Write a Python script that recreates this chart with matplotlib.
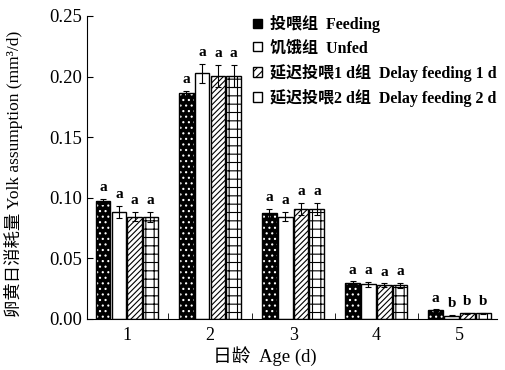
import matplotlib.pyplot as plt
import numpy as np
from matplotlib.patches import Patch

plt.rcParams['font.family'] = ['Liberation Serif', 'Noto Sans CJK SC']
plt.rcParams['hatch.linewidth'] = 0.8

days = ['1', '2', '3', '4', '5']
feeding = [0.097, 0.186, 0.087, 0.030, 0.0074]
feeding_err = [0.002, 0.002, 0.004, 0.001, 0.0005]
unfed = [0.0885, 0.2025, 0.0845, 0.0286, 0.0027]
unfed_err = [0.005, 0.008, 0.004, 0.002, 0.0005]
delay1 = [0.0845, 0.2005, 0.0905, 0.0278, 0.0047]
delay1_err = [0.004, 0.009, 0.005, 0.0015, 0.0005]
delay2 = [0.084, 0.2005, 0.0905, 0.0278, 0.0047]
delay2_err = [0.004, 0.009, 0.005, 0.002, 0.0005]
letters = [['a', 'a', 'a', 'a', 'a'],
           ['a', 'a', 'a', 'a', 'b'],
           ['a', 'a', 'a', 'a', 'b'],
           ['a', 'a', 'a', 'a', 'b']]
names = ['投喂组  Feeding', '饥饿组  Unfed',
         '延迟投喂1 d组  Delay feeding 1 d', '延迟投喂2 d组  Delay feeding 2 d']

fig = plt.figure(figsize=(5.05, 3.7), dpi=100)
ax = fig.add_axes([0.172, 0.138, 0.812, 0.819])

x = np.arange(1, 6)
w = 0.19
series = [(feeding, feeding_err), (unfed, unfed_err),
          (delay1, delay1_err), (delay2, delay2_err)]
offsets = [-1.5 * w, -0.5 * w, 0.5 * w, 1.5 * w]

for i, ((vals, errs), off) in enumerate(zip(series, offsets)):
    xs = x + off
    if i == 0:
        ax.bar(xs, vals, w * 0.93, color='black', edgecolor='white',
               hatch='...', linewidth=0)
        ax.bar(xs, vals, w * 0.93, fill=False, edgecolor='black', linewidth=1)
    elif i == 1:
        ax.bar(xs, vals, w * 0.93, color='white', edgecolor='black', linewidth=1)
    elif i == 2:
        ax.bar(xs, vals, w * 0.93, color='white', edgecolor='black',
               hatch='//////', linewidth=1)
    else:
        ax.bar(xs, vals, w * 0.93, color='white', edgecolor='black',
               hatch='++', linewidth=1)
    ax.errorbar(xs, vals, yerr=errs, fmt='none', ecolor='black',
                elinewidth=0.8, capsize=2.5, capthick=0.8)
    for xi, v, e, lab in zip(xs, vals, errs, letters[i]):
        ax.text(xi, v + e + 0.004, lab, ha='center', va='bottom',
                fontsize=11, fontweight='bold')

ax.set_xlim(0.52, 5.45)
ax.set_ylim(0, 0.25)
ax.set_xticks(x)
ax.set_xticklabels(days)
ax.set_xticks([1.5, 2.5, 3.5, 4.5], minor=True)
ax.set_yticks(np.arange(0, 0.251, 0.05))
ax.set_yticklabels(['%.2f' % v for v in np.arange(0, 0.251, 0.05)])
ax.tick_params(axis='x', which='major', length=0, labelsize=13, pad=6)
ax.tick_params(axis='x', which='minor', direction='in', length=4)
ax.tick_params(axis='y', direction='in', length=4, labelsize=13.5)
for s in ['top', 'right']:
    ax.spines[s].set_visible(False)

ax.set_xlabel('日龄  Age (d)', fontsize=13.5)
ax.xaxis.set_label_coords(0.435, -0.09)
ax.set_ylabel('卵黄日消耗量 Yolk assumption (mm³/d)', fontsize=12.5)
ax.yaxis.set_label_coords(-0.155, 0.48)

handles = [Patch(facecolor='black', edgecolor='black'),
           Patch(facecolor='white', edgecolor='black'),
           Patch(facecolor='white', edgecolor='black', hatch='////'),
           Patch(facecolor='white', edgecolor='black')]
leg = ax.legend(handles, names, loc='upper left', bbox_to_anchor=(0.37, 1.05),
                frameon=False, handlelength=0.55, handleheight=0.55,
                handletextpad=0.5, labelspacing=0.45,
                prop={'size': 11.5})
for t in leg.get_texts():
    t.set_fontweight('semibold')

fig.savefig('out.png', dpi=100)
